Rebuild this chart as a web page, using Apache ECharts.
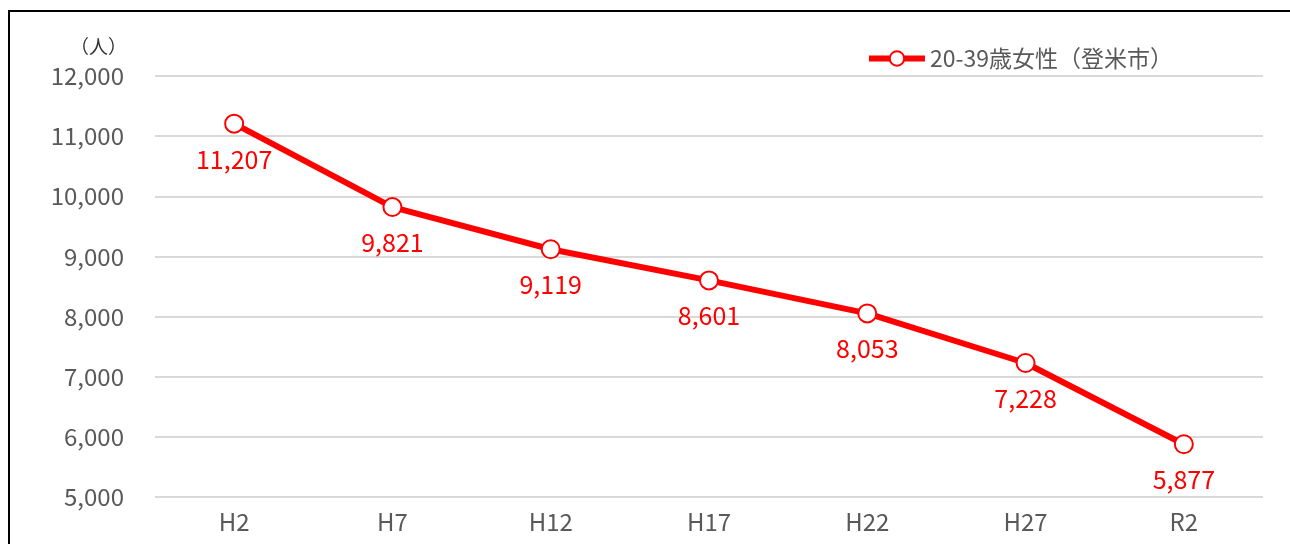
<!DOCTYPE html>
<html>
<head>
<meta charset="utf-8">
<script src="https://cdn.jsdelivr.net/npm/echarts@6/dist/echarts.min.js"></script>
<style>
  html, body { margin: 0; padding: 0; background: #fff; }
  #chart { width: 1290px; height: 544px; }
</style>
</head>
<body>
<div id="chart"></div>
<script>
// data
const categories = ['H2', 'H7', 'H12', 'H17', 'H22', 'H27', 'R2'];
const femaleValues = [11207, 9821, 9119, 8601, 8053, 7228, 5877];
const seriesName = '20-39歳女性（登米市）';
const unitLabel = '（人）';

const numFont = '"Noto Sans CJK JP", sans-serif';
const fmt = v => v.toLocaleString('en-US');

const chart = echarts.init(document.getElementById('chart'));
chart.setOption({
    animation: false,
    grid: { left: 155, right: 27, top: 76, bottom: 47 },
    graphic: [
        { type: 'line', shape: { x1: 9, y1: 10, x2: 9, y2: 544 }, style: { stroke: '#000', lineWidth: 2 } },
        { type: 'line', shape: { x1: 8, y1: 11, x2: 1290, y2: 11 }, style: { stroke: '#000', lineWidth: 2 } },
        { type: 'text', left: 70, top: 37, style: { text: unitLabel, font: '19px "Noto Sans CJK JP"', fill: '#333' } }
    ],
    legend: {
        right: 112, top: 42,
        itemWidth: 56, itemHeight: 18, itemGap: 4,
        lineStyle: { width: 6 },
        textStyle: { color: '#595959', fontSize: 23, fontFamily: '"Noto Sans CJK JP", sans-serif' },
        data: [seriesName]
    },
    xAxis: {
        type: 'category',
        data: categories,
        boundaryGap: true,
        axisLine: { show: false },
        axisTick: { show: false },
        axisLabel: { color: '#595959', fontSize: 24, fontFamily: numFont, margin: 13 }
    },
    yAxis: {
        type: 'value',
        min: 5000, max: 12000, interval: 1000,
        axisLabel: { color: '#595959', fontSize: 24, fontFamily: numFont, margin: 31, formatter: fmt },
        splitLine: { lineStyle: { color: '#d9d9d9', width: 2 } }
    },
    series: [{
        name: seriesName,
        type: 'line',
        data: femaleValues,
        symbol: 'circle',
        symbolSize: 18,
        lineStyle: { color: '#ff0000', width: 6 },
        itemStyle: { color: '#fff', borderColor: '#ff0000', borderWidth: 2 },
        label: {
            show: true, position: 'bottom', distance: 13,
            color: '#ff0000', fontSize: 25, fontFamily: numFont,
            formatter: p => fmt(p.value)
        }
    }]
});
</script>
</body>
</html>
